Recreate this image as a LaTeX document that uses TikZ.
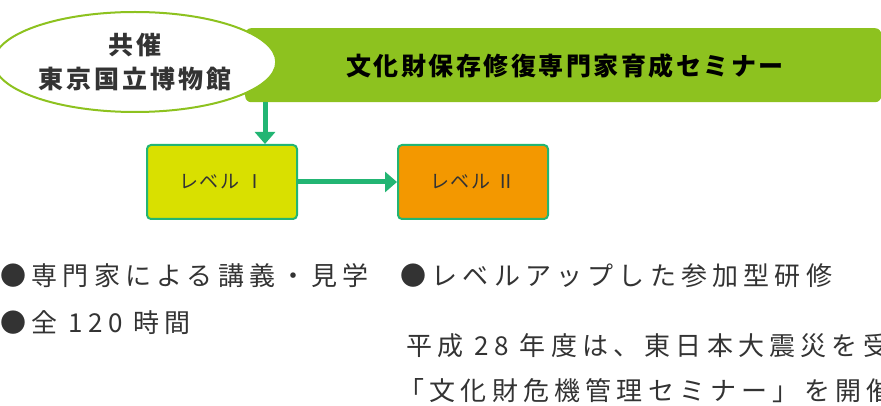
\documentclass[tikz,border=0pt]{standalone}
\usepackage{fontspec}
\setmainfont{Noto Sans CJK JP}
\usetikzlibrary{arrows.meta, positioning, shapes.geometric}
\definecolor{barGreen}{HTML}{8DC21F}
\definecolor{lineGreen}{HTML}{22B573}
\definecolor{lvOne}{HTML}{D9E000}
\definecolor{lvTwo}{HTML}{F39800}
\definecolor{txtGray}{HTML}{333333}

\begin{document}
\begin{tikzpicture}[x=1pt, y=-1pt,
    levelbox/.style={draw=lineGreen, line width=2pt, rounded corners=4pt,
        minimum width=150pt, minimum height=74pt,
        font=\fontsize{19}{22}\selectfont\addfontfeature{LetterSpace=10}, text=txtGray},
    flow/.style={draw=lineGreen, line width=5pt, -{Triangle[length=12pt,width=20pt]}},
    note/.style={anchor=west, font=\fontsize{26}{30}\selectfont\addfontfeature{LetterSpace=20}, text=txtGray}]
    \useasboundingbox (0,0) rectangle (881,406);
    % Title bar and host
    \node (bar) [fill=barGreen, rounded corners=6pt, minimum width=636pt, minimum height=74pt,
        anchor=north west] at (245,28) {};
    \node (title) at (565,66) [font=\bfseries\fontsize{25}{30}\selectfont\addfontfeature{LetterSpace=10}]
        {文化財保存修復専門家育成セミナー};
    \node (host) [ellipse, draw=barGreen, line width=2pt, fill=white, minimum width=264pt,
        minimum height=100pt, align=center,
        font=\bfseries\fontsize{25}{34}\selectfont\addfontfeature{LetterSpace=12}, text=txtGray]
        at (135,62) {共催\\東京国立博物館};
    % Levels
    \node (one) [levelbox, fill=lvOne] at (222,182) {レベル Ⅰ};
    \node (two) [levelbox, fill=lvTwo] at (473,182) {レベル Ⅱ};
    \coordinate (drop) at (265,102);
    \draw[flow] (drop) -- (drop |- one.north);
    \draw[flow] (one) -- (two);
    % Notes
    \node (n1) [note] at (-3,276) {●専門家による講義・見学};
    \node (n2) [note] at (-3,323) {●全 120 時間};
    \node (n3) [note] at (397,276) {●レベルアップした参加型研修};
    \node (n4) [note] at (403,346) {平成 28 年度は、東日本大震災を受け};
    \node (n5) [note] at (395,391) {「文化財危機管理セミナー」を開催};
\end{tikzpicture}
\end{document}
